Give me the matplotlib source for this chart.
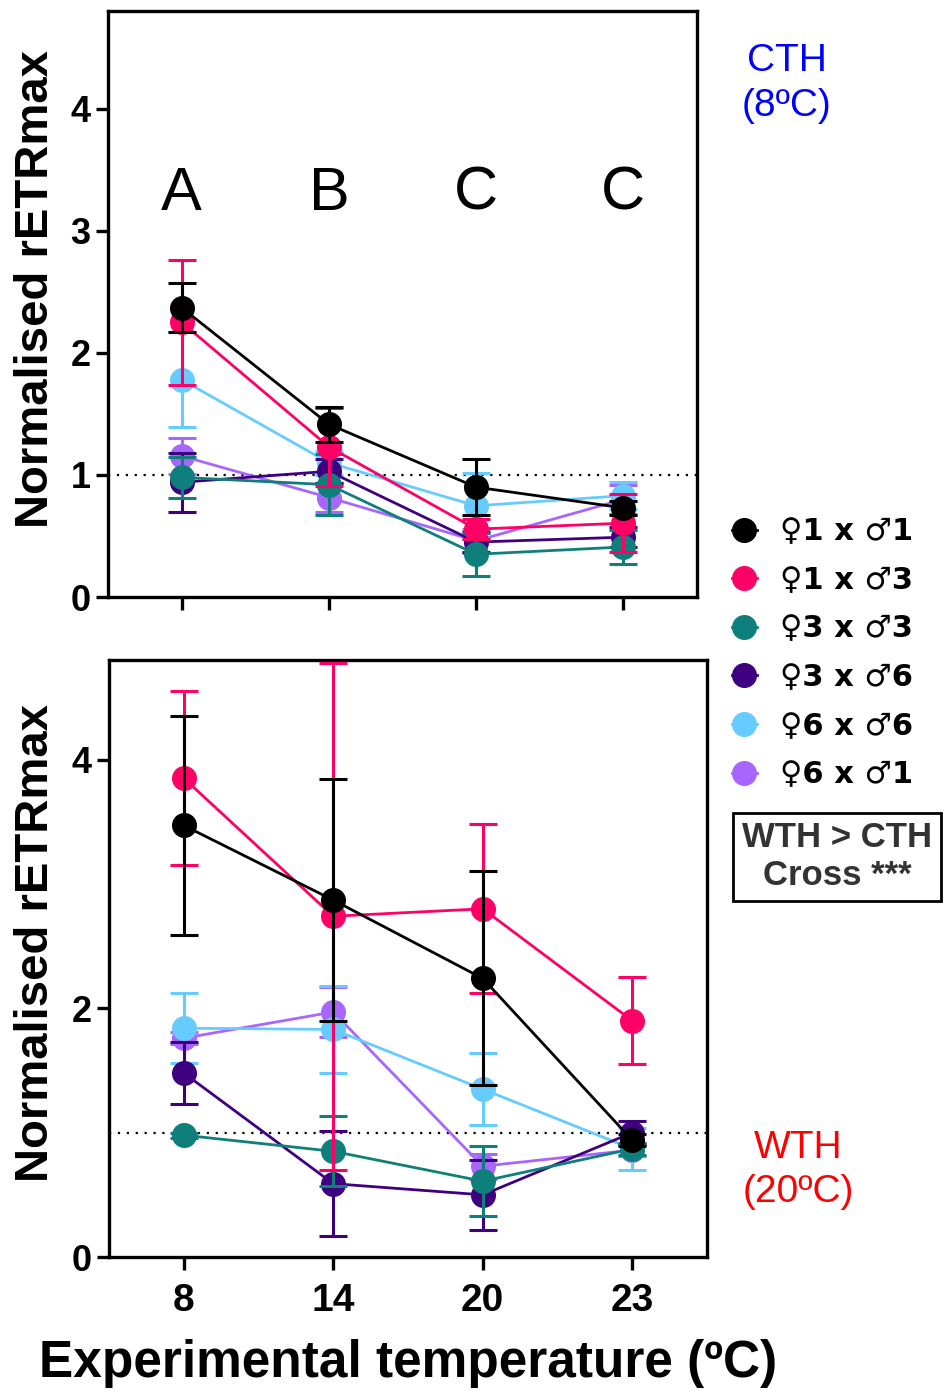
import matplotlib
matplotlib.use("Agg")
import matplotlib.pyplot as plt
import numpy as np

# Temperatures (categorical positions) and crosses
temps = ["8", "14", "20", "23"]
crosses = ["♀1 x ♂1", "♀1 x ♂3", "♀3 x ♂3", "♀3 x ♂6", "♀6 x ♂6", "♀6 x ♂1"]
colors = ["#000000", "#FF0066", "#0F7F7B", "#3F007F", "#66CCFF", "#A866FF"]

# CTH (8ºC) - means and SE
cth_means = [
    [2.37, 1.415, 0.90, 0.73],
    [2.25, 1.23, 0.556, 0.605],
    [0.98, 0.92, 0.35, 0.41],
    [0.94, 1.03, 0.45, 0.49],
    [1.78, 1.10, 0.747, 0.83],
    [1.155, 0.815, 0.46, 0.80],
]
cth_se = [
    [0.20, 0.145, 0.23, 0.06],
    [0.51, 0.32, 0.08, 0.24],
    [0.17, 0.25, 0.175, 0.14],
    [0.24, 0.10, 0.08, 0.08],
    [0.39, 0.10, 0.27, 0.11],
    [0.15, 0.12, 0.10, 0.12],
]

# WTH (20ºC) - means and SE
wth_means = [
    [3.47, 2.87, 2.24, 0.94],
    [3.85, 2.74, 2.80, 1.90],
    [0.98, 0.85, 0.61, 0.87],
    [1.48, 0.59, 0.50, 1.00],
    [1.84, 1.83, 1.35, 0.87],
    [1.76, 1.97, 0.73, 0.86],
]
wth_se = [
    [0.88, 0.97, 0.86, 0.05],
    [0.70, 2.04, 0.68, 0.35],
    [0.02, 0.28, 0.28, 0.05],
    [0.25, 0.42, 0.28, 0.09],
    [0.28, 0.35, 0.29, 0.17],
    [0.05, 0.20, 0.10, 0.05],
]

letters = ["A", "B", "C", "C"]

sans = ["Liberation Sans", "DejaVu Sans"]

fig = plt.figure(figsize=(9.5, 13.91), dpi=100)
ax1 = fig.add_axes([0.1137, 0.5708, 0.62, 0.4213])
ax2 = fig.add_axes([0.1147, 0.0963, 0.6295, 0.4292])

x = np.arange(len(temps))


def draw_panel(ax, means, ses):
    n = len(means)
    for i in reversed(range(n)):
        ax.errorbar(x, means[i], yerr=ses[i], color=colors[i], marker="o",
                    markersize=17, linewidth=2, elinewidth=2.2, capsize=10,
                    capthick=2.2, zorder=10 + (n - i), label=crosses[i])
    ax.axhline(1, color="black", linestyle=(0, (1, 3)), linewidth=1.6, zorder=1)
    ax.set_xlim(-0.5, 3.5)
    ax.set_ylim(0, 4.8)
    for s in ax.spines.values():
        s.set_linewidth(2.4)
    ax.tick_params(axis="both", width=2.4, length=9, direction="out")
    ax.set_ylabel("Normalised rETRmax", fontsize=34, fontweight="bold", family=sans)
    ax.yaxis.set_label_coords(-0.085, 0.526)


draw_panel(ax1, cth_means, cth_se)
draw_panel(ax2, wth_means, wth_se)

ax1.set_yticks([0, 1, 2, 3, 4])
ax1.set_yticklabels(["0", "1", "2", "3", "4"], fontsize=26, fontweight="bold", family=sans)
ax1.set_xticks(x)
ax1.set_xticklabels([])

ax2.set_yticks([0, 2, 4])
ax2.set_yticklabels(["0", "2", "4"], fontsize=26, fontweight="bold", family=sans)
ax2.set_xticks(x)
ax2.set_xticklabels(temps, fontsize=28, fontweight="bold", family=sans)
ax2.tick_params(axis="x", pad=10)
ax2.set_xlabel("Experimental temperature (ºC)", fontsize=37, fontweight="bold",
               family=sans, labelpad=14)

for i, let in enumerate(letters):
    ax1.text(x[i], 3.30, let, fontsize=44, ha="center", va="center", family=sans)

fig.text(0.828, 0.940, "CTH\n(8ºC)", color="#0000FF", fontsize=28, ha="center",
         va="center", family=sans, linespacing=1.3)
fig.text(0.840, 0.159, "WTH\n(20ºC)", color="#FF0000", fontsize=28, ha="center",
         va="center", family=sans, linespacing=1.3)

handles, labels = ax2.get_legend_handles_labels()
handles = [h[0] for h in handles[::-1]]
labels = labels[::-1]
leg = fig.legend(handles, labels, loc="upper left", bbox_to_anchor=(0.770, 0.628),
                 frameon=False, handlelength=0.85, handletextpad=0.75,
                 labelspacing=0.64,
                 prop={"family": ["DejaVu Sans"], "weight": "bold", "size": 22},
                 borderaxespad=0, borderpad=0)

fig.text(0.881, 0.384, "WTH > CTH\nCross ***", color="#333333", fontsize=25,
         fontweight="bold", ha="center", va="center", family=sans, linespacing=1.2,
         bbox=dict(boxstyle="square,pad=0.25", facecolor="white", edgecolor="black",
                   linewidth=2))

fig.savefig("out.png", dpi=100)
